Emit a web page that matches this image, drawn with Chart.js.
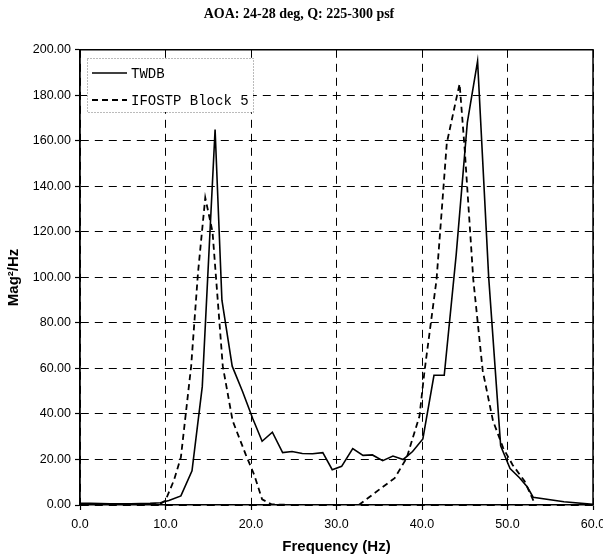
<!DOCTYPE html>
<html>
<head>
<meta charset="utf-8">
<script src="https://cdn.jsdelivr.net/npm/chart.js@4.4.1/dist/chart.umd.min.js"></script>
<style>
  html, body { margin: 0; padding: 0; background: #fff; }
  #wrap { width: 603px; height: 556px; }
</style>
</head>
<body>
<div id="wrap"><canvas id="c" width="603" height="556"></canvas></div>
<script>
// ---- data ----
const chartTitle = "AOA: 24-28 deg, Q: 225-300 psf";
const seriesNames = ["TWDB", "IFOSTP Block 5"];

const twdbFreq = [0, 1.2, 2.4, 3.5, 4.7, 5.9, 7.1, 8.2, 9.4, 10.4, 11.8, 13.1, 14.3, 15.8, 16.6, 17.8, 19.0, 20.2, 21.3, 22.5, 23.7, 24.8, 26.0, 27.2, 28.4, 29.5, 30.6, 31.9, 33.1, 34.2, 35.4, 36.6, 37.8, 38.9, 40.1, 41.4, 42.6, 44.0, 45.3, 46.5, 47.8, 49.2, 50.3, 51.4, 52.3, 53.0, 56.6, 60.0];
const twdbMag  = [0.8, 0.8, 0.6, 0.5, 0.5, 0.5, 0.6, 0.7, 1.0, 2.0, 4.0, 15, 52, 165, 90, 61, 50, 38, 28, 32, 23, 23.5, 22.6, 22.5, 23, 15.5, 17, 24.8, 21.8, 22, 19.5, 21.5, 20, 23.5, 29, 57, 57, 110, 168, 195, 100, 26, 16, 12, 8, 3.4, 1.4, 0.3];

const ifoFreq = [0, 1.2, 2.4, 3.5, 4.7, 5.9, 7.1, 8.2, 9.4, 10.0, 11.0, 11.8, 13.0, 13.8, 14.65, 15.5, 16.7, 17.85, 19.4, 20.4, 21.3, 22.4, 25.0, 28.0, 30.0, 32.6, 35.4, 36.8, 38.2, 39.7, 40.3, 41.7, 42.9, 44.1, 44.4, 45.0, 46.0, 47.1, 48.3, 49.5, 50.6, 52.0, 53.2];
const ifoMag  = [0.3, 0.3, 0.3, 0.3, 0.3, 0.3, 0.3, 0.3, 0.5, 2, 11, 21, 61, 102, 135, 120, 61, 37, 22, 13, 2.5, 0.3, 0, 0, 0, 0, 7.9, 11.8, 20.6, 39, 59, 99, 159, 180, 185, 156, 99, 59, 37, 25, 17.6, 10.5, 0.5];

const xTicks = [0, 10, 20, 30, 40, 50, 60];
const yTicks = [0, 20, 40, 60, 80, 100, 120, 140, 160, 180, 200];

// ---- plugins ----
const frameBox = {
  id: 'frameBox',
  afterDatasetsDraw(chart) {
    const a = chart.chartArea, ctx = chart.ctx;
    ctx.save();
    ctx.strokeStyle = '#000';
    ctx.lineWidth = 1.5;
    ctx.setLineDash([]);
    ctx.beginPath();
    ctx.moveTo(a.left, a.top);
    ctx.lineTo(a.right, a.top);
    ctx.lineTo(a.right, a.bottom);
    ctx.stroke();
    ctx.restore();
  }
};

const boxLegend = {
  id: 'boxLegend',
  afterDraw(chart) {
    const ctx = chart.ctx;
    const x0 = 87, y0 = 58, x1 = 253, y1 = 112;
    ctx.save();
    ctx.fillStyle = '#fff';
    ctx.fillRect(x0, y0, x1 - x0, y1 - y0);
    ctx.strokeStyle = '#777';
    ctx.lineWidth = 1;
    ctx.setLineDash([1, 2]);
    ctx.strokeRect(x0 + 0.5, y0 + 0.5, x1 - x0, y1 - y0);
    const rows = [73, 100];
    chart.data.datasets.forEach((ds, i) => {
      const y = rows[i];
      ctx.strokeStyle = ds.borderColor;
      ctx.lineWidth = ds.borderWidth;
      ctx.setLineDash(ds.borderDash || []);
      ctx.beginPath();
      ctx.moveTo(92, y);
      ctx.lineTo(127, y);
      ctx.stroke();
      ctx.setLineDash([]);
      ctx.fillStyle = '#000';
      ctx.font = '14px "Liberation Mono", "DejaVu Sans Mono", monospace';
      ctx.textBaseline = 'middle';
      ctx.textAlign = 'left';
      ctx.fillText(ds.label, 131, y + 1);
    });
    ctx.restore();
  }
};

const toPts = (xs, ys) => xs.map((x, i) => ({ x: x, y: ys[i] }));

new Chart(document.getElementById('c'), {
  type: 'line',
  data: {
    datasets: [
      {
        label: seriesNames[0],
        data: toPts(twdbFreq, twdbMag),
        borderColor: '#000',
        borderWidth: 1.6,
        pointRadius: 0,
        tension: 0,
        fill: false
      },
      {
        label: seriesNames[1],
        data: toPts(ifoFreq, ifoMag),
        borderColor: '#000',
        borderWidth: 1.8,
        borderDash: [6, 4],
        pointRadius: 0,
        tension: 0,
        fill: false
      }
    ]
  },
  options: {
    responsive: false,
    animation: false,
    devicePixelRatio: 1,
    layout: { padding: { left: 5, right: 10, top: 0, bottom: 0 } },
    plugins: {
      legend: { display: false },
      tooltip: { enabled: false },
      title: {
        display: true,
        text: chartTitle,
        color: '#000',
        font: { family: '"Liberation Serif", "Times New Roman", serif', size: 14, weight: 'bold' },
        padding: { top: 6, bottom: 27 }
      }
    },
    scales: {
      x: {
        type: 'linear',
        min: 0, max: 60,
        afterBuildTicks: (s) => { s.ticks = xTicks.map(v => ({ value: v })); },
        afterFit: (s) => { s.height = 51; s.paddingLeft = 0; s.paddingRight = 0; },
        ticks: {
          color: '#000',
          padding: 7,
          font: { family: '"Liberation Sans", Arial, sans-serif', size: 12.5 },
          callback: (v) => Number(v).toFixed(1),
          maxRotation: 0
        },
        grid: { color: '#000', lineWidth: 1, tickLength: 5, tickColor: '#000', tickWidth: 1.2 },
        border: { color: '#000', width: 1.6, dash: [8, 6] },
        title: {
          display: true,
          text: 'Frequency (Hz)',
          color: '#000',
          font: { family: '"Liberation Sans", Arial, sans-serif', size: 15, weight: 'bold' },
          padding: { top: 0, bottom: 0 }
        }
      },
      y: {
        type: 'linear',
        min: 0, max: 200,
        afterBuildTicks: (s) => { s.ticks = yTicks.map(v => ({ value: v })); },
        afterFit: (s) => { s.width = 75; },
        ticks: {
          color: '#000',
          padding: 4,
          font: { family: '"Liberation Sans", Arial, sans-serif', size: 12.5 },
          callback: (v) => Number(v).toFixed(2)
        },
        grid: { color: '#000', lineWidth: 1, tickLength: 5, tickColor: '#000', tickWidth: 1.2 },
        border: { color: '#000', width: 1.8, dash: [8, 6] },
        title: {
          display: true,
          text: 'Mag²/Hz',
          color: '#000',
          font: { family: '"Liberation Sans", Arial, sans-serif', size: 15, weight: 'bold' },
          padding: { top: 0, bottom: 2 }
        }
      }
    }
  },
  plugins: [frameBox, boxLegend]
});
</script>
</body>
</html>
